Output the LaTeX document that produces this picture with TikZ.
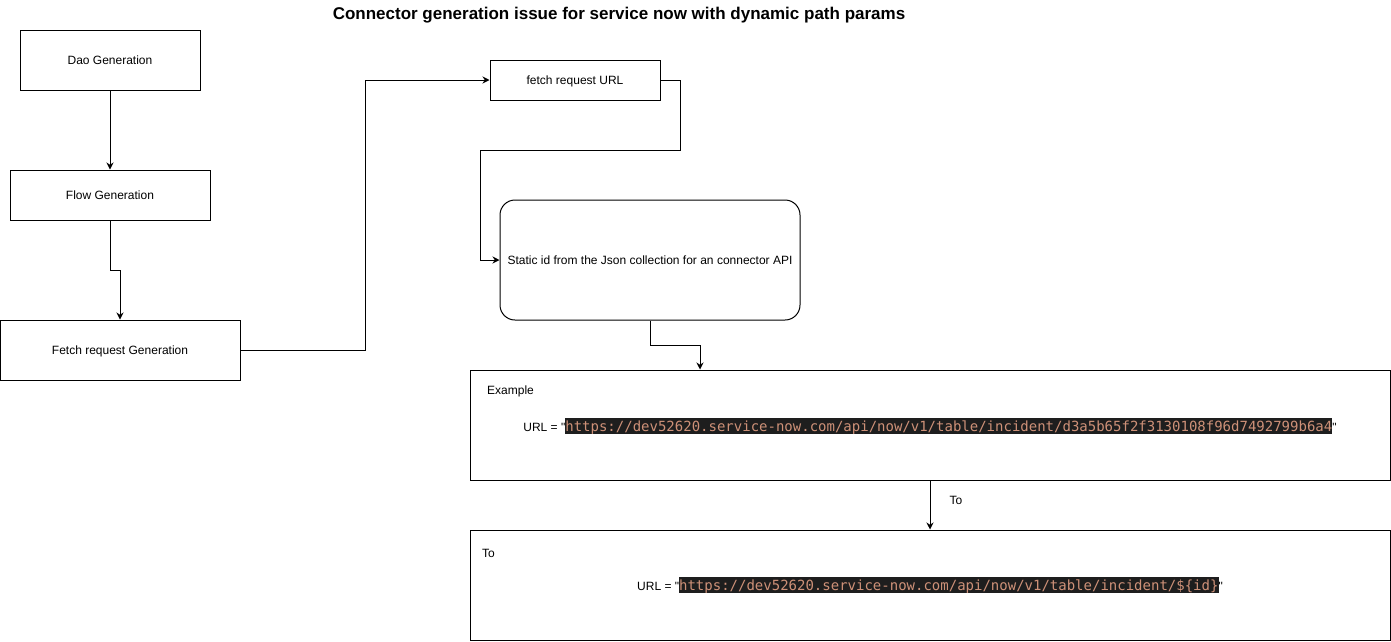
\documentclass[tikz,border=0pt]{standalone}
\usepackage{fontspec}
\setmainfont{Liberation Sans}[Ligatures=TeXOff]
\newfontfamily\codefont{DejaVu Sans Mono}
\usetikzlibrary{arrows.meta}
\definecolor{codebg}{HTML}{1E1E1E}
\definecolor{codefg}{HTML}{CE9178}
\newcommand{\codehl}[1]{{\setlength{\fboxsep}{0pt}\colorbox{codebg}{\rule[-3pt]{0pt}{16pt}\codefont\fontsize{14}{16}\selectfont\color{codefg}#1}}}
\begin{document}
\begin{tikzpicture}[x=1pt,y=-1pt,
  every node/.style={font=\fontsize{12}{14}\selectfont, inner sep=0pt},
  txt/.style={text height=10.86pt, text depth=2.54pt},
  box/.style={draw, line width=1pt, rectangle, txt},
  rbox/.style={draw, line width=1pt, rectangle, rounded corners=15pt, txt},
  arr/.style={draw, line width=1pt, -{Stealth[length=7pt,width=7pt]}},
  lbl/.style={anchor=west, txt}]
\useasboundingbox[fill=white] (0,0) rectangle (1391,641);
\node[font=\bfseries\fontsize{17}{20}\selectfont] (title) at (619,15) {Connector generation issue for service now with dynamic path params};
\node[box, minimum width=180pt, minimum height=60pt] (dao) at (110,60) {Dao Generation};
\node[box, minimum width=200pt, minimum height=50pt] (flow) at (110,195) {Flow Generation};
\node[box, minimum width=240pt, minimum height=60pt] (fgen) at (120,350) {Fetch request Generation};
\node[box, minimum width=170pt, minimum height=40pt] (url) at (575,80) {fetch request URL};
\node[rbox, minimum width=300pt, minimum height=120pt] (static) at (650,260) {Static id from the Json collection for an connector API};
\node[box, minimum width=920pt, minimum height=110pt] (ex) at (930,425) {};
\node[box, minimum width=920pt, minimum height=110pt] (to) at (930,585) {};
\node[lbl] (exlbl) at (487,390) {Example};
\node[anchor=base] (exurl) at (930,431) {URL = "\codehl{https://dev52620.service-now.com/api/now/v1/table/incident/d3a5b65f2f3130108f96d7492799b6a4}"};
\node[lbl] (tolbl) at (482,553) {To};
\node[anchor=base] (tourl) at (930,590) {URL = "\codehl{https://dev52620.service-now.com/api/now/v1/table/incident/\$\{id\}}"};
\coordinate (c1) at (700,345);
\draw[arr] (dao) -- (flow);
\draw[arr] (flow.south) -- (110,270) -- (120,270) -- (fgen.north);
\draw[arr] (fgen.east) -- (365,350) -- (365,80) -- (url.west);
\draw[arr] (url.east) -- (680,80) -- (680,150) -- (480,150) -- (480,260) -- (static.west);
\draw[arr] (static.south) -- (650,345) -- (c1) -- (c1 |- ex.north);
\draw[arr] (ex.south) -- (to.north) node[pos=0.4, right=19pt, txt] (tolabel) {To};
\end{tikzpicture}
\end{document}
